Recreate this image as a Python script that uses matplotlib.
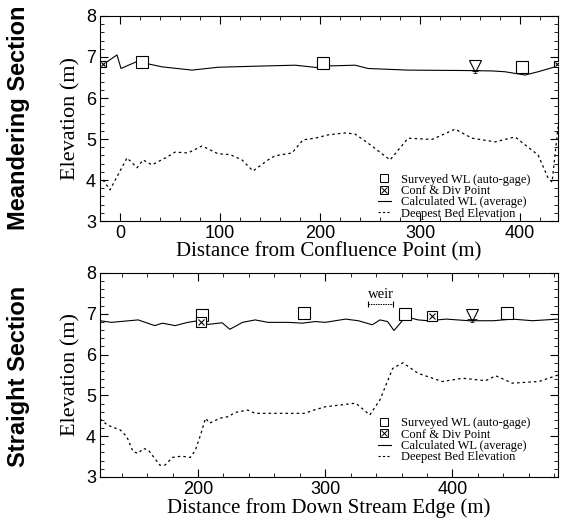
import matplotlib
matplotlib.use("Agg")
import matplotlib.pyplot as plt
from matplotlib.lines import Line2D
from matplotlib.legend_handler import HandlerTuple
from matplotlib.ticker import MultipleLocator

# ---------------- Data ----------------
# Meandering section (top)
m_wl_x = [-18, -3, 1, 17, 42, 72, 98, 142, 175, 198, 205, 235, 248, 288, 345, 372, 385, 405, 418, 435, 438]
m_wl_y = [6.80, 7.05, 6.72, 6.89, 6.76, 6.68, 6.75, 6.78, 6.80, 6.74, 6.78, 6.80, 6.72, 6.68, 6.67, 6.66, 6.64, 6.56, 6.64, 6.76, 6.80]
m_bed_x = [-17, -10, 7, 17, 23, 32, 47, 55, 68, 82, 98, 110, 122, 133, 148, 155, 172, 183, 195, 208,
           225, 235, 248, 270, 288, 312, 335, 352, 375, 395, 418, 428, 432, 438]
m_bed_y = [4.00, 3.76, 4.54, 4.30, 4.49, 4.37, 4.56, 4.68, 4.66, 4.83, 4.64, 4.62, 4.49, 4.22, 4.49, 4.59, 4.66, 4.98, 5.02, 5.10,
           5.15, 5.12, 4.90, 4.49, 5.02, 4.99, 5.24, 5.02, 4.93, 5.05, 4.61, 4.05, 3.95, 5.30]
m_surv_x = [22, 203, 402]
m_surv_y = [6.89, 6.85, 6.76]
m_conf_x = [-17, 437]
m_conf_y = [6.82, 6.82]
m_tri_x = [355]
m_tri_y = [6.78]

# Straight section (bottom)
s_wl_x = [123, 132, 153, 166, 172, 182, 192, 200, 208, 219, 225, 235, 245, 255, 271, 282, 292, 300,
          316, 326, 337, 343, 349, 354, 359, 363, 373, 381, 395, 413, 432, 447, 463, 483]
s_wl_y = [6.83, 6.79, 6.85, 6.71, 6.77, 6.71, 6.79, 6.83, 6.74, 6.78, 6.62, 6.79, 6.85, 6.79, 6.79, 6.77, 6.81, 6.79,
          6.87, 6.83, 6.73, 6.85, 6.81, 6.59, 6.77, 6.93, 6.85, 6.83, 6.87, 6.83, 6.83, 6.87, 6.83, 6.87]
s_bed_x = [123, 129, 139, 144, 149, 153, 157, 161, 170, 174, 180, 187, 194, 198, 202, 206, 209, 212, 217, 224,
           229, 239, 245, 261, 284, 291, 300, 324, 335, 343, 353, 361, 373, 392, 408, 426, 434, 447, 468, 483]
s_bed_y = [4.42, 4.27, 4.15, 3.99, 3.62, 3.58, 3.70, 3.66, 3.29, 3.29, 3.48, 3.51, 3.48, 3.66, 4.03, 4.44, 4.32, 4.36, 4.44, 4.48,
           4.58, 4.64, 4.56, 4.56, 4.56, 4.64, 4.72, 4.81, 4.52, 4.89, 5.66, 5.80, 5.54, 5.34, 5.42, 5.36, 5.48, 5.30, 5.34, 5.50]
s_surv_x = [203, 283, 363, 443]
s_surv_y = [6.97, 7.01, 7.00, 7.01]
s_conf_x = [202, 384]
s_conf_y = [6.81, 6.95]
s_tri_x = [415]
s_tri_y = [6.97]
weir_x = [334, 353]
weir_y = 7.24

legend_labels = ["Surveyed WL (auto-gage)", "Conf & Div Point",
                 "Calculated WL (average)", "Deepest Bed Elevation"]

# ---------------- Figure ----------------
SERIF = "Liberation Serif"
SANS = "Liberation Sans"
fig = plt.figure(figsize=(5.66, 5.26), dpi=100)
ax1 = fig.add_axes([0.1767, 0.5798, 0.8093, 0.3898])
ax2 = fig.add_axes([0.1767, 0.0932, 0.8093, 0.3878])

def water_marker(ax, x, y):
    ax.plot(x, y, linestyle="none", marker="v", ms=8, mfc="white", mec="black", mew=0.8, zorder=5)
    for dy, w in [(-0.09, 7), (-0.13, 5), (-0.17, 3)]:
        ax.plot(x, [v + dy for v in y], linestyle="none", marker="_", ms=w, mec="black", mew=0.6, zorder=5)

def conf_marker(ax, x, y, ms=7):
    ax.plot(x, y, linestyle="none", marker="s", ms=ms, mfc="white", mec="black", mew=0.8, zorder=6)
    ax.plot(x, y, linestyle="none", marker="x", ms=ms * 0.6, mec="black", mew=0.8, zorder=7)

def style_axes(ax, xlim, xmajor, xminor, xlabel):
    ax.set_xlim(*xlim)
    ax.set_ylim(3, 8)
    ax.xaxis.set_major_locator(MultipleLocator(xmajor))
    ax.xaxis.set_minor_locator(MultipleLocator(xminor))
    ax.yaxis.set_major_locator(MultipleLocator(1))
    ax.yaxis.set_minor_locator(MultipleLocator(0.2))
    ax.tick_params(which="both", direction="in", top=True, right=True, labelsize=13)
    ax.tick_params(which="major", length=6, width=0.8, pad=3)
    ax.tick_params(which="minor", length=3, width=0.6)
    for lab in ax.get_xticklabels() + ax.get_yticklabels():
        lab.set_fontfamily(SANS)
    for sp in ax.spines.values():
        sp.set_linewidth(0.8)
    ax.set_xlabel(xlabel, fontfamily=SERIF, fontsize=15, labelpad=0)
    ax.set_ylabel("Elevation (m)", fontfamily=SERIF, fontsize=16, labelpad=4)

def add_legend(ax, y_anchor):
    h_surv = Line2D([], [], linestyle="none", marker="s", ms=6, mfc="white", mec="black", mew=0.7)
    h_conf_a = Line2D([], [], linestyle="none", marker="s", ms=6, mfc="white", mec="black", mew=0.7)
    h_conf_b = Line2D([], [], linestyle="none", marker="x", ms=4, mec="black", mew=0.7)
    h_wl = Line2D([], [], color="black", lw=0.8)
    h_bed = Line2D([], [], color="black", lw=0.8, linestyle=(0, (2, 2)))
    leg = ax.legend([h_surv, (h_conf_a, h_conf_b), h_wl, h_bed], legend_labels,
                    handler_map={tuple: HandlerTuple(ndivide=1, pad=0)},
                    loc="lower right", bbox_to_anchor=(0.955, y_anchor), frameon=False,
                    prop={"family": SERIF, "size": 9}, handlelength=1.0, handletextpad=0.8,
                    labelspacing=-0.05, borderaxespad=0.2)
    return leg

# Top panel
ax1.plot(m_wl_x, m_wl_y, color="black", lw=0.8)
ax1.plot(m_bed_x, m_bed_y, color="black", lw=0.9, linestyle=(0, (2, 2.5)))
ax1.plot(m_surv_x, m_surv_y, linestyle="none", marker="s", ms=8, mfc="white", mec="black", mew=0.8, zorder=5)
conf_marker(ax1, m_conf_x, m_conf_y, ms=5)
water_marker(ax1, m_tri_x, m_tri_y)
style_axes(ax1, (-20, 438), 100, 20, "Distance from Confluence Point (m)")
add_legend(ax1, -0.03)

# Bottom panel
ax2.plot(s_wl_x, s_wl_y, color="black", lw=0.8)
ax2.plot(s_bed_x, s_bed_y, color="black", lw=0.9, linestyle=(0, (2, 2.5)))
ax2.plot(s_surv_x, s_surv_y, linestyle="none", marker="s", ms=8, mfc="white", mec="black", mew=0.8, zorder=5)
conf_marker(ax2, s_conf_x, s_conf_y, ms=7)
water_marker(ax2, s_tri_x, s_tri_y)
ax2.plot(weir_x, [weir_y, weir_y], color="black", lw=0.7, linestyle=(0, (1.5, 1)),
         marker="|", ms=5, mew=0.8)
ax2.text(sum(weir_x) / 2, weir_y + 0.08, "weir", ha="center", va="bottom",
         fontfamily=SERIF, fontsize=10.5)
style_axes(ax2, (123, 483), 100, 20, "Distance from Down Stream Edge (m)")
add_legend(ax2, 0.03)

# Section titles
fig.text(0.033, 0.776, "Meandering Section", rotation=90, ha="center", va="center",
         fontfamily=SANS, fontweight="bold", fontsize=17)
fig.text(0.033, 0.285, "Straight Section", rotation=90, ha="center", va="center",
         fontfamily=SANS, fontweight="bold", fontsize=17)

fig.savefig("out.png", dpi=100)
